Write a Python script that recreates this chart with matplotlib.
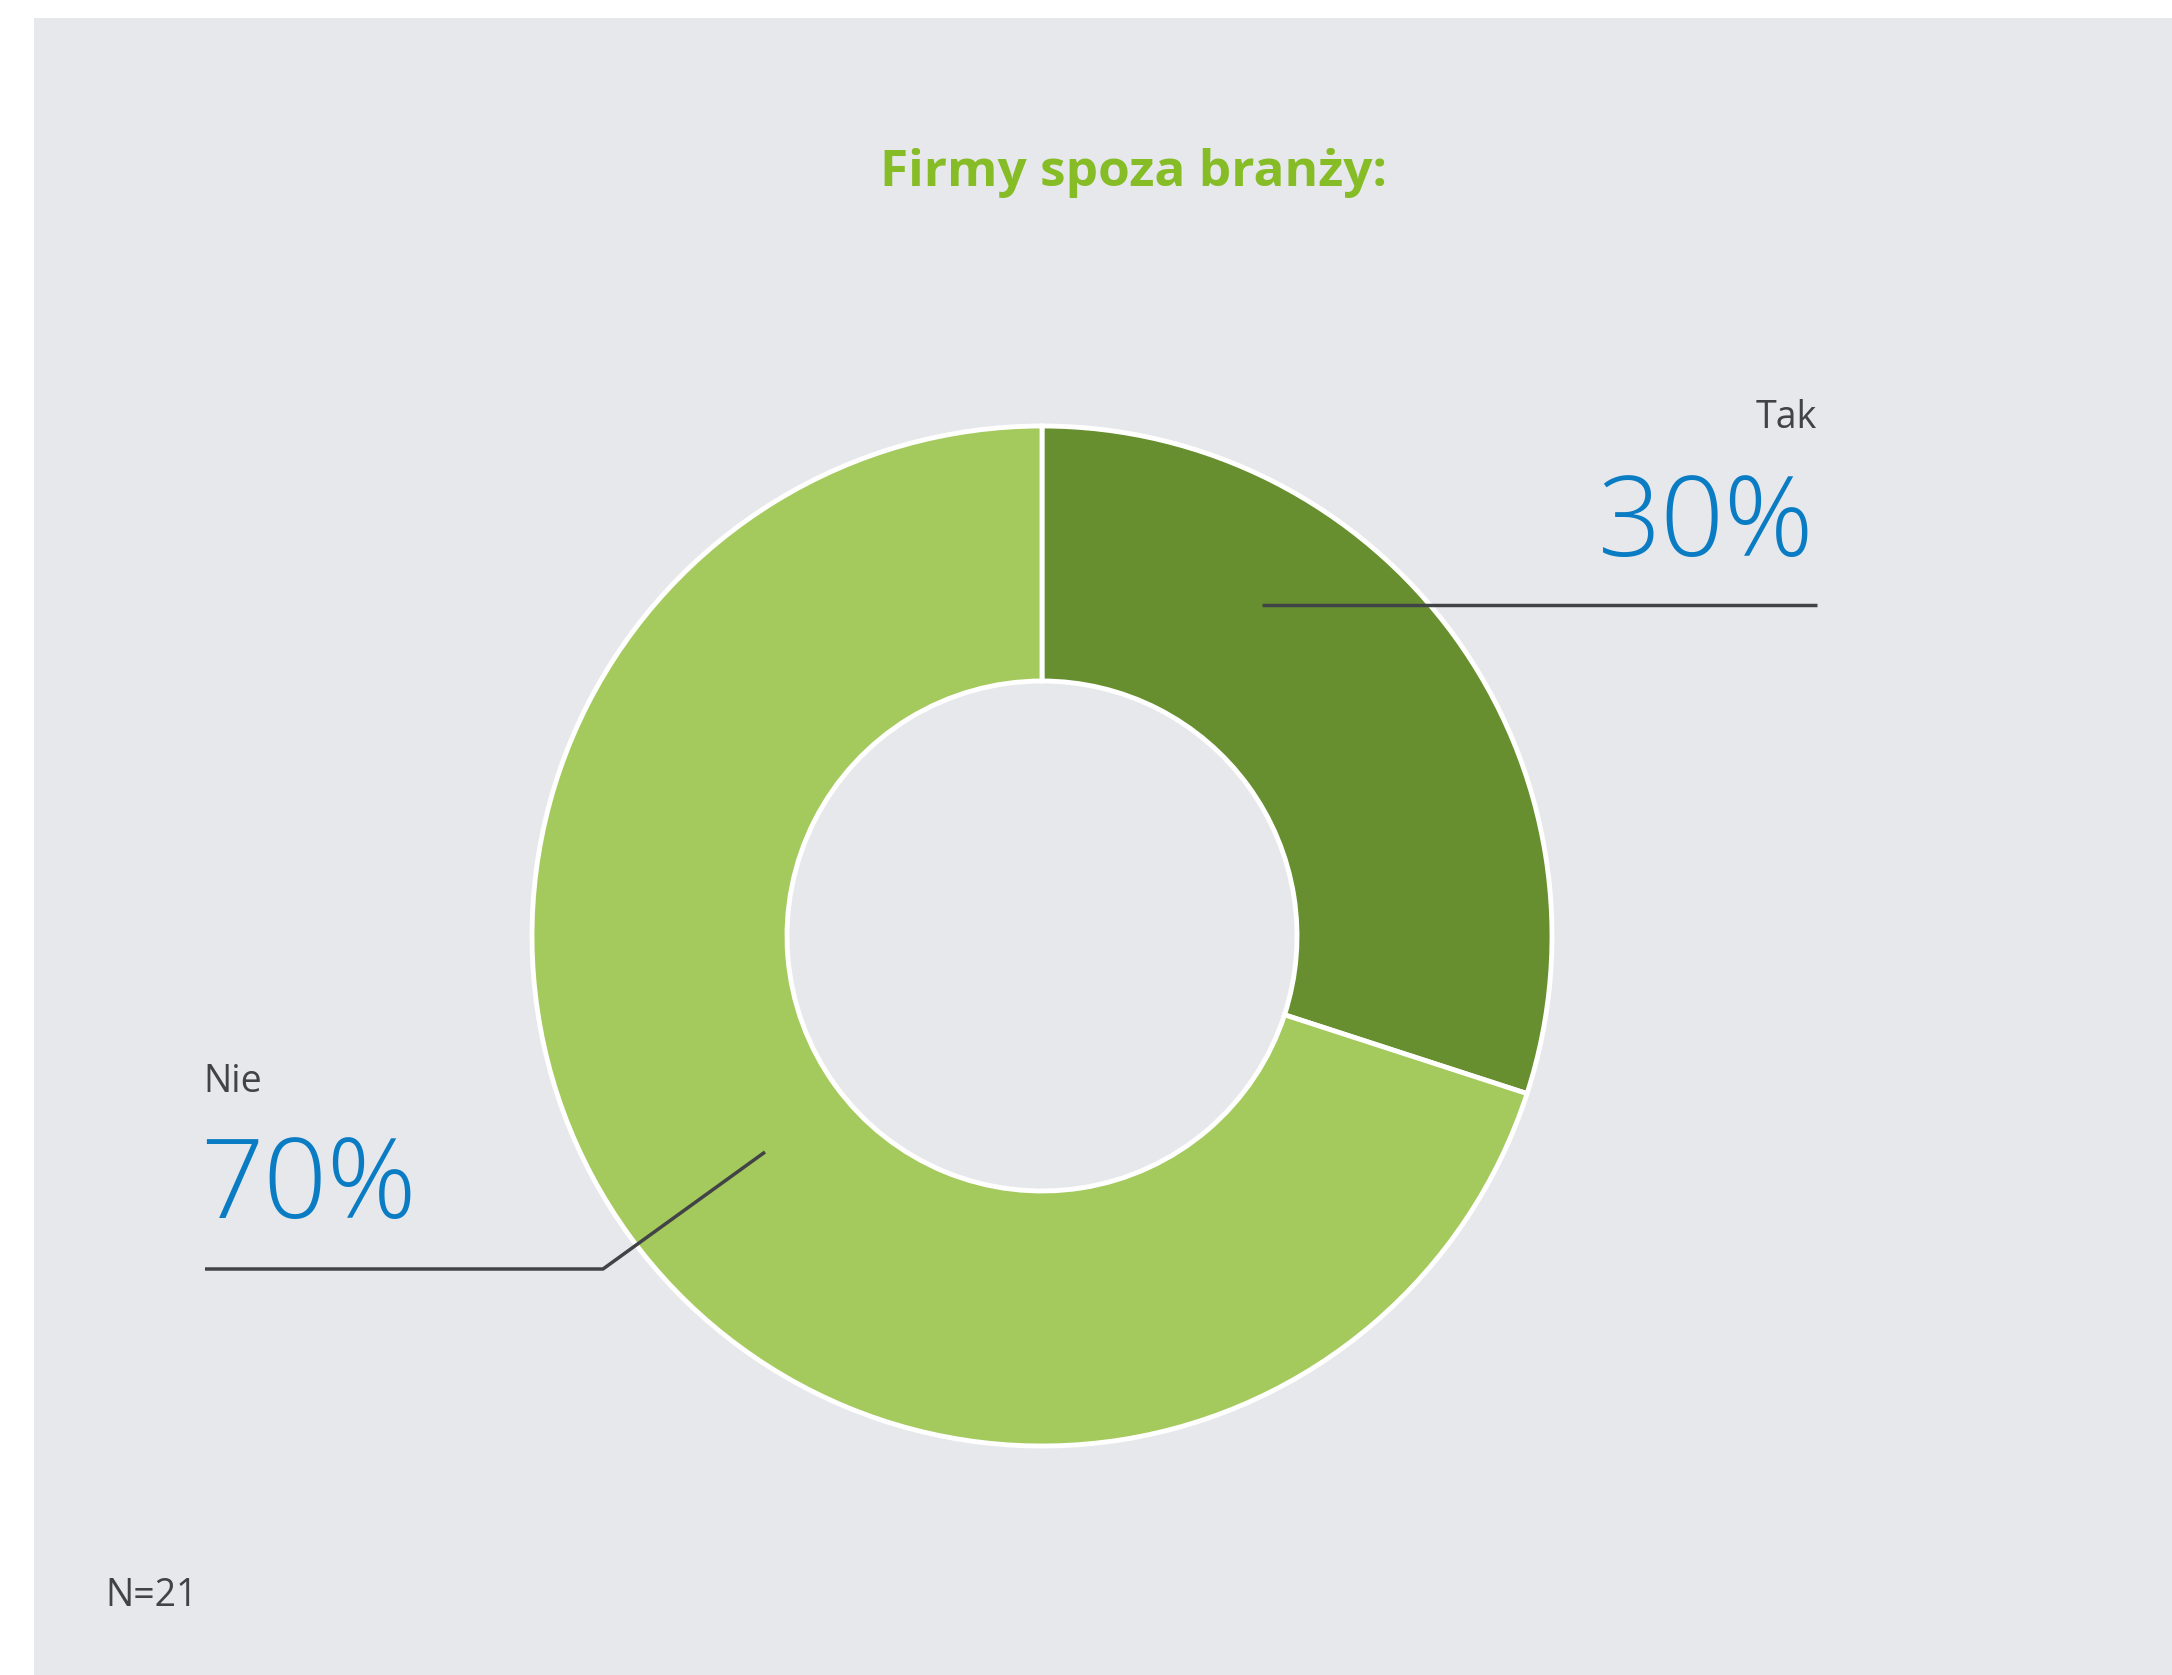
import matplotlib.pyplot as plt
from matplotlib.patches import Rectangle

# data
labels = ["Tak", "Nie"]
shares = [30, 70]
colors = ["#678f2f", "#a4c95d"]
title = "Firmy spoza branży:"
note = "N=21"

W, H = 2172, 1675
BG = "#e7e8ec"
TXT = "#424347"
BLUE = "#0a7cc4"

plt.rcParams["font.family"] = ["Open Sans", "DejaVu Sans"]

fig = plt.figure(figsize=(W / 100, H / 100), dpi=100)
fig.patch.set_facecolor("white")
ax = fig.add_axes([0, 0, 1, 1])
ax.set_axis_off()

# gray panel
ax.add_patch(Rectangle((34, 0), W - 34, H - 18, facecolor=BG, edgecolor="none", zorder=0))

def Y(y):
    return H - y

cx, cy, r = 1042, 936, 510
ax.pie(shares, colors=colors, startangle=90, counterclock=False,
       center=(cx, Y(cy)), radius=r,
       wedgeprops=dict(width=r - 255, edgecolor="white", linewidth=3.5))

ax.set_xlim(0, W)
ax.set_ylim(0, H)
ax.set_aspect("equal")

ax.text(1133, Y(173), title, ha="center", va="center", fontsize=37,
        fontweight="bold", color="#86bc25")

# Tak label
ax.text(1817, Y(428), labels[0], ha="right", va="baseline", fontsize=27, color=TXT)
ax.text(1814, Y(556), f"{shares[0]}%", ha="right", va="baseline", fontsize=80,
        fontweight="light", color=BLUE)
ax.plot([1262, 1817], [Y(605), Y(605)], color=TXT, lw=2.5, solid_capstyle="butt")

# Nie label
ax.text(203, Y(1092), labels[1], ha="left", va="baseline", fontsize=27, color=TXT)
ax.text(200, Y(1218), f"{shares[1]}%", ha="left", va="baseline", fontsize=80,
        fontweight="light", color=BLUE)
ax.plot([205, 603, 765], [Y(1269), Y(1269), Y(1152)], color=TXT, lw=2.5,
        solid_capstyle="butt")

ax.text(105, Y(1606), note, ha="left", va="baseline", fontsize=27, color=TXT)

fig.savefig("out.png", dpi=100, facecolor=fig.get_facecolor())
